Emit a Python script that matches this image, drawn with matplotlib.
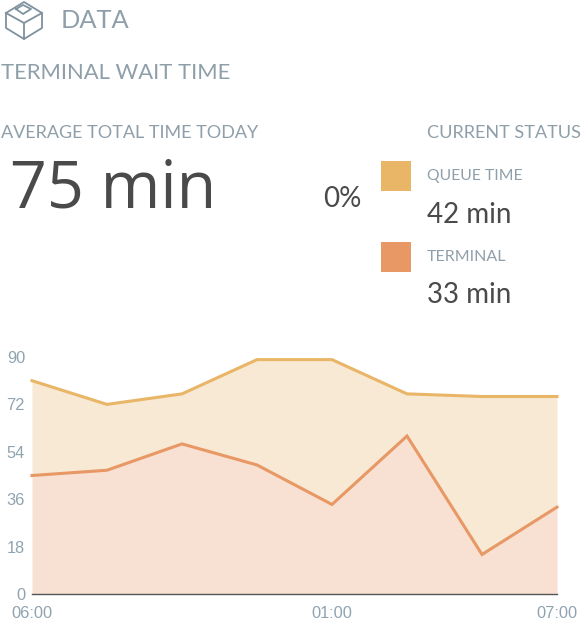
import matplotlib
matplotlib.use("Agg")
import matplotlib.pyplot as plt
from matplotlib.patches import Rectangle

W, H = 583, 622
hours = [0, 1, 2, 3, 4, 5, 6, 7]
terminal = [45, 47, 57, 49, 34, 60, 15, 33]
queue_time = [36, 25, 19, 40, 55, 16, 60, 42]
y_ticks = [0, 18, 36, 54, 72, 90]
x_tick_pos = [0, 4, 7]
x_tick_labels = ["06:00", "01:00", "07:00"]

C_QUEUE = "#e9b566"
C_TERM = "#e89865"
C_GREY = "#8f9faa"
C_TICK = "#8fa3b1"
C_DARK = "#4a4a4a"
FONT = ["Lato", "DejaVu Sans"]
BIG = ["Open Sans", "DejaVu Sans"]
TICK = ["Liberation Sans", "DejaVu Sans"]

fig = plt.figure(figsize=(W / 100, H / 100), dpi=100, facecolor="white")

# pixel-space overlay
ov = fig.add_axes([0, 0, 1, 1])
ov.set_xlim(0, W)
ov.set_ylim(H, 0)
ov.axis("off")


def txt(x, y, s, size, color=C_GREY, ha="left", family=FONT):
    ov.text(x, y, s, fontsize=size, color=color, ha=ha, va="center", family=family)


# cube icon
icon_paths = [
    [(6, 13), (24, 2), (42, 13), (42, 28), (24, 39), (6, 28), (6, 13)],
    [(6, 13), (24, 23), (42, 13)],
    [(24, 23), (24, 39)],
    [(16, 9), (23, 5), (31, 9), (23, 14), (16, 9)],
]
for p in icon_paths:
    ov.plot([a for a, _ in p], [b for _, b in p], color="#7f929e", lw=1.3, solid_joinstyle="round")

txt(61, 20, "DATA", 18.3)
txt(1, 73, "TERMINAL WAIT TIME", 15.8)
txt(1, 133, "AVERAGE TOTAL TIME TODAY", 12.95)
txt(10, 191, "75 min", 46.5, C_DARK, family=BIG)
txt(323, 199, "0%", 20, C_DARK)
txt(427, 133, "CURRENT STATUS", 13.1)
txt(427, 176, "QUEUE TIME", 11.3)
txt(427, 215, "42 min", 20, C_DARK)
txt(427, 257, "TERMINAL", 11.5)
txt(427, 295, "33 min", 20, C_DARK)

ov.add_patch(Rectangle((381, 161), 30, 30, facecolor=C_QUEUE, edgecolor="none"))
ov.add_patch(Rectangle((381, 242), 30, 30, facecolor=C_TERM, edgecolor="none"))

# chart
left, right, top, bottom = 32, 557, 357, 594
ax = fig.add_axes([left / W, 1 - bottom / H, (right - left) / W, (bottom - top) / H])
ax.patch.set_alpha(0)
top_line = [t + q for t, q in zip(terminal, queue_time)]
ax.fill_between(hours, terminal, top_line, color="#f7e9d4", lw=0)
ax.fill_between(hours, 0, terminal, color="#f8e0d3", lw=0)
ax.plot(hours, top_line, color=C_QUEUE, lw=2.2, solid_joinstyle="miter", clip_on=False)
ax.plot(hours, terminal, color=C_TERM, lw=2.2, solid_joinstyle="miter", clip_on=False)
ax.set_xlim(0, 7)
ax.set_ylim(0, 90)
for s in ["top", "left", "right"]:
    ax.spines[s].set_visible(False)
ax.spines["bottom"].set_color("#555555")
ax.spines["bottom"].set_linewidth(1)
ax.set_yticks(y_ticks)
ax.set_xticks(x_tick_pos)
ax.set_xticklabels(x_tick_labels)
ax.tick_params(length=0)
ax.tick_params(axis="y", pad=5, labelsize=11.8, labelcolor=C_TICK)
ax.tick_params(axis="x", pad=9, labelsize=11.8, labelcolor=C_TICK)
for lab in ax.get_xticklabels() + ax.get_yticklabels():
    lab.set_family(TICK)

fig.savefig("out.png", dpi=100, facecolor="white")
